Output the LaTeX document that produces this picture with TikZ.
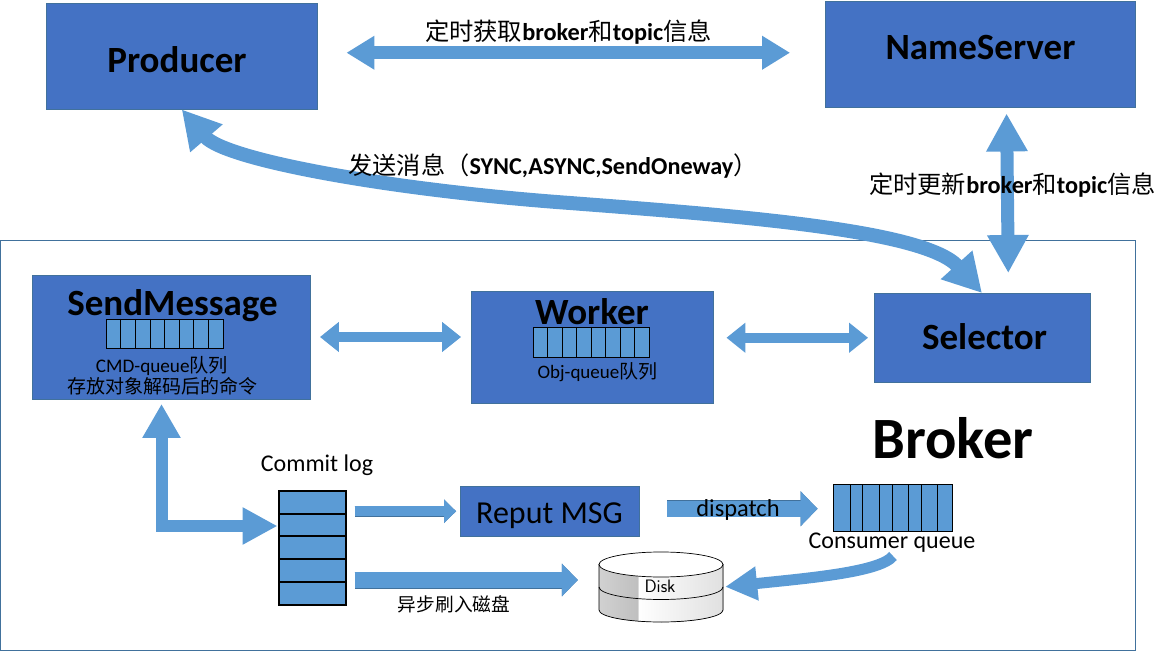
\documentclass[tikz,border=0pt]{standalone}
\usepackage{fontspec}
\setmainfont{Carlito}
\newfontfamily\cjk{Noto Sans CJK SC}
\usetikzlibrary{arrows.meta,calc}
\definecolor{boxblue}{HTML}{4472C4}
\definecolor{arrowblue}{HTML}{5B9BD5}
\definecolor{edgeblue}{HTML}{41719C}
\tikzset{
  procbox/.style={fill=boxblue,draw=edgeblue,line width=0.4pt,inner sep=0pt},
  cellbox/.style={fill=arrowblue,draw=black,line width=0.9pt,inner sep=0pt},
  txt/.style={anchor=base,inner sep=0pt,text=black},
  bigarrow/.style={draw=arrowblue,line width=#1,line join=miter},
  flatarrow/.style={draw=arrowblue,line width=#1,line join=miter,preaction={draw=edgeblue,line width=#1+1pt}}
}
\begin{document}
\begin{tikzpicture}[x=1pt,y=-1pt]
\useasboundingbox (0,0) rectangle (1170,652);
\node[draw=edgeblue,line width=0.8pt,minimum width=1134.5pt,minimum height=410.5pt,inner sep=0pt] (broker) at (567.75,445.5) {};
\node[procbox,minimum width=271pt,minimum height=106pt] (producer) at (181.75,56.25) {};
\node[procbox,minimum width=309.5pt,minimum height=106pt] (nameserver) at (980,54.25) {};
\node[procbox,minimum width=277.5pt,minimum height=123.5pt] (sendmsg) at (171,337) {};
\node[procbox,minimum width=242pt,minimum height=111.5pt] (worker) at (592.25,347) {};
\node[procbox,minimum width=215.5pt,minimum height=89pt] (selector) at (982,337.75) {};
\node[procbox,minimum width=179pt,minimum height=50pt] (reput) at (549.75,511.25) {};
% queues
\node[cellbox,minimum width=117.5pt,minimum height=29pt] (sendq) at (165,333.5) {};
\foreach \x in {120.7,135.7,150.7,164.7,179.7,193.7,208.7}
  \draw[black,line width=0.7pt] (\x,319) -- (\x,348);
\node[cellbox,minimum width=116pt,minimum height=30pt] (workq) at (591,342) {};
\foreach \x in {547.5,562,576.5,591,605.5,620,634.5}
  \draw[black,line width=0.7pt] (\x,327) -- (\x,357);
\node[cellbox,minimum width=119pt,minimum height=47pt] (cqueue) at (892.5,507.5) {};
\foreach \x in {850.7,862.7,879.7,892.7,908.7,921.7,937.7}
  \draw[black,line width=0.7pt] (\x,484) -- (\x,531);
\node[cellbox,line width=2pt,minimum width=67pt,minimum height=114pt] (clog) at (312,547.5) {};
\foreach \y in {514,536,559,582}
  \draw[black,line width=2pt] (278,\y) -- (346,\y);
% disk
\node[inner sep=0pt,minimum width=124pt,minimum height=70pt] (disk) at (661,587) {};
\fill[left color=white,right color=black!12] (638,564) -- (723,564) -- (723,610) arc (0:112:62 and 12) -- cycle;
\fill[left color=black!18,right color=black!25] (599,564) -- (638,564) -- (638,621.1) arc (112:180:62 and 12) -- cycle;
\draw[black,line width=0.7pt] (599,564) -- (599,610) arc (180:0:62 and 12) -- (723,564);
\draw[black,line width=0.7pt,fill=white] (661,564.5) ellipse (62 and 12.5);
\draw[black,line width=0.7pt] (599,587) arc (180:0:62 and 12.5);
% arrows
\draw[bigarrow=13pt,{Triangle[width=32pt,length=28pt]}-{Triangle[width=32pt,length=28pt]},shorten <=29pt,shorten >=35pt] ([yshift=3.5pt]producer.east) -- ([yshift=1.5pt]nameserver.west);
\draw[bigarrow=14pt,{Triangle[width=40pt,length=38pt]}-{Triangle[width=40pt,length=38pt]}] (producer.south) .. controls (225,160) and (390,190) .. (570,203) .. controls (740,216) and (925,230) .. (selector.north);
\draw[bigarrow=13pt,{Triangle[width=39pt,length=38pt]}-{Triangle[width=39pt,length=38pt]},shorten <=6pt,shorten >=20pt] ([xshift=26.5pt]nameserver.south) -- ([xshift=26.5pt]selector.north);
\draw[bigarrow=10pt,{Triangle[width=29pt,length=19pt]}-{Triangle[width=29pt,length=19pt]},shorten <=10pt,shorten >=10pt] (sendmsg.east) -- (sendmsg.east -| worker.west);
\draw[bigarrow=10pt,{Triangle[width=29pt,length=19pt]}-{Triangle[width=29pt,length=19pt]},shorten <=13pt,shorten >=6pt] (worker.east |- selector.west) -- (selector.west);
\draw[bigarrow=12pt,{Triangle[width=36pt,length=34pt]}-{Triangle[width=35pt,length=35pt]},shorten <=5pt] ([xshift=-9.5pt]sendmsg.south) |- ([yshift=21.5pt]clog.west);
\draw[flatarrow=10pt,-{Triangle[width=23pt,length=12pt]},shorten <=8pt,shorten >=4pt] (clog.east |- reput.west) -- (reput.west);
\draw[flatarrow=16pt,-{Triangle[width=32pt,length=16pt]},shorten <=8pt,shorten >=21pt] ([yshift=-32.5pt]clog.east) -- ([yshift=-32.5pt]clog.east -| disk.west);
\draw[flatarrow=16pt,-{Triangle[width=34pt,length=17pt]},shorten <=28pt,shorten >=15pt] ([yshift=2.5pt]reput.east) -- ([yshift=2.5pt]reput.east -| cqueue.west);
\draw[bigarrow=11pt,-{Triangle[width=32pt,length=32pt]},shorten >=2pt] (893,556) .. controls (880,572) and (810,578) .. (disk.east);
% labels
\node[txt,font=\bfseries\fontsize{37}{37}\selectfont] (producertxt) at (177,73) {Producer};
\node[txt,font=\bfseries\fontsize{37}{37}\selectfont] (nameservertxt) at (980.5,60) {NameServer};
\node[txt,font=\bfseries\fontsize{37}{37}\selectfont] (sendmsgtxt) at (172.5,316) {SendMessage};
\node[txt,font=\bfseries\fontsize{37}{37}\selectfont] (workertxt) at (592,324) {Worker};
\node[txt,font=\bfseries\fontsize{37}{37}\selectfont] (selectortxt) at (984.5,349) {Selector};
\node[txt,font=\bfseries\fontsize{58.5}{58.5}\selectfont] (brokertxt) at (953,458) {Broker};
\node[txt,font=\fontsize{32}{32}\selectfont] (reputtxt) at (549.5,523) {Reput MSG};
\node[txt,font=\fontsize{24}{24}\selectfont] (clogtxt) at (317,471) {Commit log};
\node[txt,font=\fontsize{24}{24}\selectfont] (cqueuetxt) at (892,548) {Consumer queue};
\node[txt,font=\fontsize{24.4}{24.4}\selectfont] (dispatchtxt) at (738,516) {dispatch};
\node[txt,font=\fontsize{19.2}{19.2}\selectfont] (cmdtxt) at (162,372) {CMD-queue{\cjk 队列}};
\node[txt,font=\fontsize{19}{19}\selectfont] (storetxt) at (162.5,393) {\cjk 存放对象解码后的命令};
\node[txt,font=\fontsize{19}{19}\selectfont] (objtxt) at (597.5,378) {Obj-queue{\cjk 队列}};
\node[txt,font=\fontsize{18.7}{18.7}\selectfont] (flushtxt) at (454,611) {\cjk 异步刷入磁盘};
\node[txt,font=\sffamily\fontsize{18}{18}\selectfont] (disktxt) at (660,592) {Disk};
\node[txt,font=\fontsize{24.3}{24.3}\selectfont] (fetchtxt) at (568.5,41) {{\cjk 定时获取}\textbf{broker}{\cjk 和}\textbf{topic}{\cjk 信息}};
\node[txt,font=\fontsize{24.2}{24.2}\selectfont] (sendtxt) at (553,175) {{\cjk 发送消息（}\textbf{SYNC,ASYNC,SendOneway}{\cjk ）}};
\node[txt,font=\fontsize{24.3}{24.3}\selectfont] (updatetxt) at (1012.5,194) {{\cjk 定时更新}\textbf{broker}{\cjk 和}\textbf{topic}{\cjk 信息}};
\end{tikzpicture}
\end{document}
